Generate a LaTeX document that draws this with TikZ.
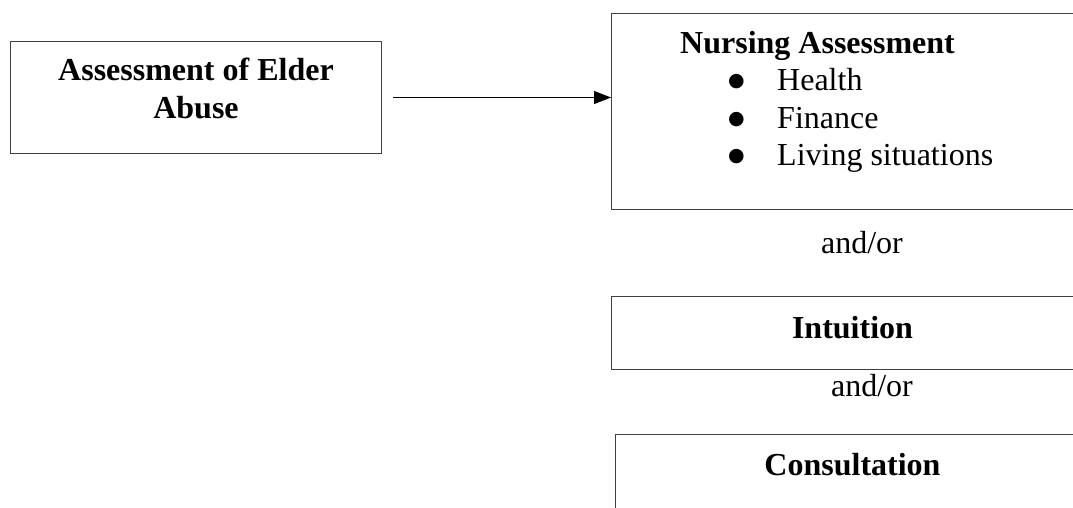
\documentclass[tikz,border=0pt]{standalone}
\usepackage{fontspec}
\setmainfont{Liberation Serif}
\newfontfamily\symfont{DejaVu Sans}
\usetikzlibrary{arrows.meta}

\newcommand{\itemdot}{\hspace*{48pt}\makebox[49pt][l]{\raisebox{4pt}{\symfont\fontsize{19}{19}\selectfont ●}}}

\begin{document}
\begin{tikzpicture}[x=1pt, y=-1pt,
  every node/.style = {font=\fontsize{32}{37.5}\selectfont, inner sep=0pt},
  box/.style = {shape=rectangle, draw=black!75, line width=1pt, anchor=north west, align=center},
  arrow/.style = {-{Triangle[length=17pt,width=13pt]}, line width=1pt}]
  \useasboundingbox (0,0) rectangle (1073,507);
  \clip (0,0) rectangle (1073,507);
  \node [box, minimum width=371pt, minimum height=112pt, text height=22pt, text depth=56pt] (abuse) at (10,41)
    {\begin{tabular}[t]{@{}c@{}}\textbf{Assessment of Elder}\\ \textbf{Abuse}\end{tabular}};
  \node [box, minimum width=480pt, minimum height=196pt] (nursing) at (611,13) {};
  \node [anchor=base west, align=left] (nursingtext) at (680,53)
    {\begin{tabular}[t]{@{}l@{}}\textbf{Nursing Assessment}\\
     \itemdot Health\\
     \itemdot Finance\\
     \itemdot Living situations\end{tabular}};
  \node [anchor=base] (andor1) at (862,253) {and/or};
  \node [box, minimum width=482pt, minimum height=73pt, text height=22pt, text depth=11pt] (intuition) at (611,296)
    {\textbf{Intuition}};
  \node [anchor=base] (andor2) at (872,396) {and/or};
  \node [box, minimum width=474pt, minimum height=100pt, text height=22pt, text depth=40pt] (consult) at (615,434)
    {\textbf{Consultation}};
  \draw [arrow, shorten <=11pt] (abuse.east) -- (abuse.east -| nursing.west);
\end{tikzpicture}
\end{document}
